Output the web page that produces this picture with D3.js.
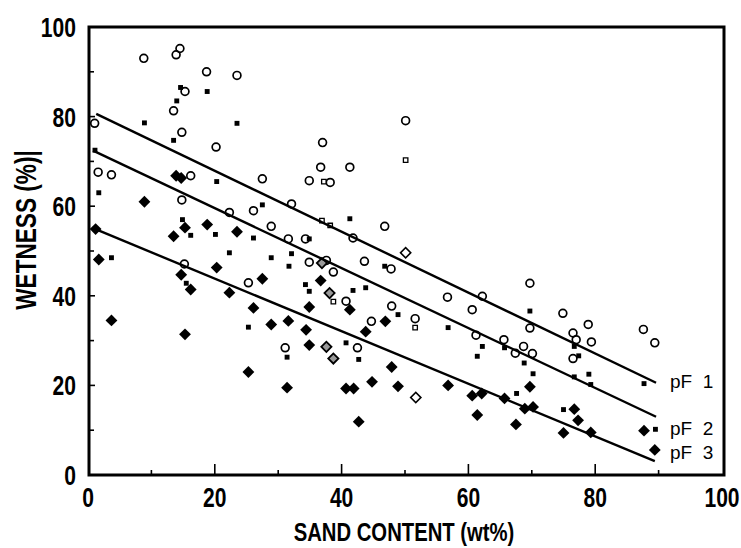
<!DOCTYPE html>
<html>
<head>
<meta charset="utf-8">
<script src="https://cdn.jsdelivr.net/npm/d3@7"></script>
<style>
  html, body { margin: 0; padding: 0; background: #fff; }
  svg { display: block; }
  .tick-label { font-family: "Liberation Sans", Arial, sans-serif; font-weight: bold; font-size: 27px; fill: #000; }
  .axis-title { font-family: "Liberation Sans", Arial, sans-serif; font-weight: bold; fill: #000; }
  .fit-label { font-family: "Liberation Sans", Arial, sans-serif; font-size: 19px; fill: #000; }
</style>
</head>
<body>
<svg id="chart" width="741" height="548"></svg>
<script>
// Wetness at pF 1 (open circles)
const pf1Circles = [
  [8.8,93.0],[13.9,93.8],[14.5,95.2],[18.7,90.0],[23.5,89.2],[15.3,85.6],[13.5,81.3],
  [14.8,76.5],[20.2,73.2],[1.05,78.5],[1.6,67.6],[3.7,67.0],[16.2,66.8],[27.5,66.1],
  [14.8,61.4],[22.3,58.6],[26.1,59.0],[28.9,55.5],[31.6,52.7],[15.2,47.1],[25.3,42.9],
  [31.1,28.4],[50.1,79.1],[37.0,74.2],[36.7,68.7],[41.3,68.7],[34.9,65.7],[38.2,65.3],
  [32.1,60.5],[46.8,55.5],[41.8,52.9],[34.3,52.7],[34.9,47.5],[37.6,47.9],[38.7,45.3],
  [43.6,47.7],[47.8,46.0],[56.7,39.7],[62.2,39.9],[60.6,36.9],[40.7,38.8],[44.7,34.3],
  [51.6,34.9],[47.9,37.7],[61.2,31.2],[42.5,28.4],[69.7,42.8],[69.7,32.8],[74.9,36.1],
  [78.9,33.6],[76.5,31.7],[77.0,30.2],[79.4,29.7],[87.6,32.5],[89.4,29.5],[65.6,30.2],
  [68.7,28.7],[70.1,27.1],[67.4,27.2],[76.5,26.0]
];
// Wetness at pF 2 (small filled squares)
const pf2Squares = [
  [14.6,86.5],[18.8,85.6],[14.0,83.5],[8.9,78.6],[23.5,78.5],[13.5,74.7],[1.1,72.5],
  [20.3,65.5],[1.7,63.0],[27.5,60.3],[14.9,57.0],[16.2,53.5],[20.1,53.7],[26.1,52.9],
  [22.3,49.6],[28.9,48.5],[32.1,49.4],[31.7,46.6],[3.7,48.5],[25.3,33.0],[31.4,26.3],
  [41.3,57.2],[34.9,52.7],[34.3,42.5],[34.9,41.0],[41.8,41.2],[43.8,41.8],[46.8,46.6],
  [48.9,35.8],[56.8,32.9],[40.7,29.5],[42.7,25.8],[62.2,28.7],[61.4,26.5],[69.7,36.6],
  [76.7,28.7],[65.7,28.4],[68.8,25.0],[70.2,22.6],[67.6,18.2],[79.0,22.5],[79.3,20.2],
  [76.7,21.9],[75.0,14.6],[87.7,20.4],[89.5,10.2],[77.4,26.6],[15.5,42.8]
];
// Wetness at pF 3 (filled diamonds)
const pf3Diamonds = [
  [13.9,66.8],[14.7,66.3],[8.9,61.0],[1.2,54.9],[15.3,55.2],[13.5,53.3],[18.8,55.9],
  [23.5,54.3],[1.7,48.1],[20.3,46.3],[27.5,43.8],[14.7,44.7],[16.2,41.4],[22.3,40.7],
  [26.1,37.3],[28.9,33.6],[31.6,34.4],[3.7,34.5],[15.3,31.4],[25.3,23.0],[31.4,19.5],
  [36.7,43.4],[34.9,37.5],[41.3,36.9],[46.9,34.3],[34.4,32.4],[43.8,32.0],[34.9,29.0],
  [47.9,24.1],[40.7,19.3],[41.9,19.3],[44.8,20.8],[48.9,19.8],[56.8,20.0],[60.6,17.7],
  [62.1,18.2],[61.4,13.4],[42.7,11.9],[65.7,17.1],[69.7,19.7],[68.9,14.8],[70.2,15.2],
  [67.5,11.3],[76.7,14.7],[77.3,12.2],[75.0,9.4],[79.3,9.5],[87.7,9.9],[89.4,5.6]
];
// Secondary samples: hatched diamonds, open diamonds, open squares
const hatchedDiamonds = [[36.9,47.3],[38.1,40.6],[37.6,28.6],[38.7,26.0]];
const openDiamonds = [[50.1,49.6],[51.7,17.3]];
const openSquares = [[37.2,65.5],[50.1,70.3],[38.7,38.7],[51.6,32.9],[36.9,56.8],[38.2,55.7]];

// Regression lines
const fitLabels = ["pF 1", "pF 2", "pF 3"];
const fitStartX = [1.3, 0.8, 0.8];
const fitStartY = [80.6, 72.4, 55.1];
const fitEndX = [89.6, 89.6, 89.4];
const fitEndY = [20.6, 13.0, 3.1];

// Axis ticks
const xTickLabels = [0, 20, 40, 60, 80, 100];
const yTickLabels = [0, 20, 40, 60, 80, 100];
const xTitle = "SAND CONTENT (wt%)";
const yTitle = "WETNESS (%)|";

const svg = d3.select("#chart");
const x = d3.scaleLinear().domain([0, 100]).range([88, 722]);
const y = d3.scaleLinear().domain([0, 100]).range([475, 27]);
const squeeze = 0.78; // condensed lettering

// Tick marks, pointing inward
const minorTicks = d3.range(10, 100, 10);
const tickG = svg.append("g").attr("stroke", "#000").attr("stroke-width", 1.6);
tickG.selectAll(".xt").data(minorTicks).join("line")
  .attr("x1", d => x(d)).attr("x2", d => x(d))
  .attr("y1", y(0)).attr("y2", d => y(0) - (d % 20 === 0 ? 11 : 5));
tickG.selectAll(".yt").data(minorTicks).join("line")
  .attr("y1", d => y(d)).attr("y2", d => y(d))
  .attr("x1", x(0)).attr("x2", d => x(0) + (d % 20 === 0 ? 7 : 6));

// Frame
svg.append("path")
  .attr("d", `M${x(0)+1},${y(100)} H${x(100)+2} V${y(0)} H${x(0)+1} Z`)
  .attr("fill", "none").attr("stroke", "#000").attr("stroke-width", 3);

// Tick labels
svg.append("g").selectAll("text").data(xTickLabels).join("text")
  .attr("class", "tick-label")
  .attr("transform", d => `translate(${x(d)},507) scale(${squeeze},1)`)
  .attr("text-anchor", "middle").text(d => d);
svg.append("g").selectAll("text").data(yTickLabels).join("text")
  .attr("class", "tick-label")
  .attr("transform", d => `translate(76,${y(d) + 10}) scale(${squeeze},1)`)
  .attr("text-anchor", "end").text(d => d);

// Axis titles
svg.append("text").attr("class", "axis-title")
  .attr("font-size", 26)
  .attr("transform", `translate(404,541) scale(${squeeze},1)`)
  .attr("text-anchor", "middle").text(xTitle);
svg.append("text").attr("class", "axis-title")
  .attr("font-size", 29)
  .attr("transform", `translate(36,230) rotate(-90) scale(${squeeze},1)`)
  .attr("text-anchor", "middle").text(yTitle);

// Points
const sq = d3.symbol().type(d3.symbolSquare);
const pts = svg.append("g");
pts.selectAll(".c").data(pf1Circles).join("circle")
  .attr("cx", d => x(d[0])).attr("cy", d => y(d[1])).attr("r", 3.9)
  .attr("fill", "none").attr("stroke", "#000").attr("stroke-width", 1.7);
pts.selectAll(".s").data(pf2Squares).join("path")
  .attr("d", sq.size(24)())
  .attr("transform", d => `translate(${x(d[0])},${y(d[1])})`)
  .attr("fill", "#000");
pts.selectAll(".os").data(openSquares).join("path")
  .attr("d", sq.size(20)())
  .attr("transform", d => `translate(${x(d[0])},${y(d[1])})`)
  .attr("fill", "#fff").attr("stroke", "#000").attr("stroke-width", 1.3);
pts.selectAll(".d").data(pf3Diamonds).join("path")
  .attr("d", sq.size(70)())
  .attr("transform", d => `translate(${x(d[0])},${y(d[1])}) rotate(45)`)
  .attr("fill", "#000");
pts.selectAll(".hd").data(hatchedDiamonds).join("path")
  .attr("d", sq.size(52)())
  .attr("transform", d => `translate(${x(d[0])},${y(d[1])}) rotate(45)`)
  .attr("fill", "#999").attr("stroke", "#000").attr("stroke-width", 1.8);
pts.selectAll(".od").data(openDiamonds).join("path")
  .attr("d", sq.size(52)())
  .attr("transform", d => `translate(${x(d[0])},${y(d[1])}) rotate(45)`)
  .attr("fill", "#fff").attr("stroke", "#000").attr("stroke-width", 1.6);

// Regression lines and labels
const fits = fitLabels.map((label, i) => ({
  label, x1: fitStartX[i], y1: fitStartY[i], x2: fitEndX[i], y2: fitEndY[i]
}));
svg.append("g").selectAll("line").data(fits).join("line")
  .attr("x1", d => x(d.x1)).attr("y1", d => y(d.y1))
  .attr("x2", d => x(d.x2)).attr("y2", d => y(d.y2))
  .attr("stroke", "#000").attr("stroke-width", 2.4);
const labelBase = [388, 435, 459];
svg.append("g").selectAll("text").data(fits).join("text")
  .attr("class", "fit-label")
  .attr("x", 670).attr("y", (d, i) => labelBase[i])
  .attr("xml:space", "preserve")
  .text(d => d.label.replace(" ", "  "));
</script>
</body>
</html>
